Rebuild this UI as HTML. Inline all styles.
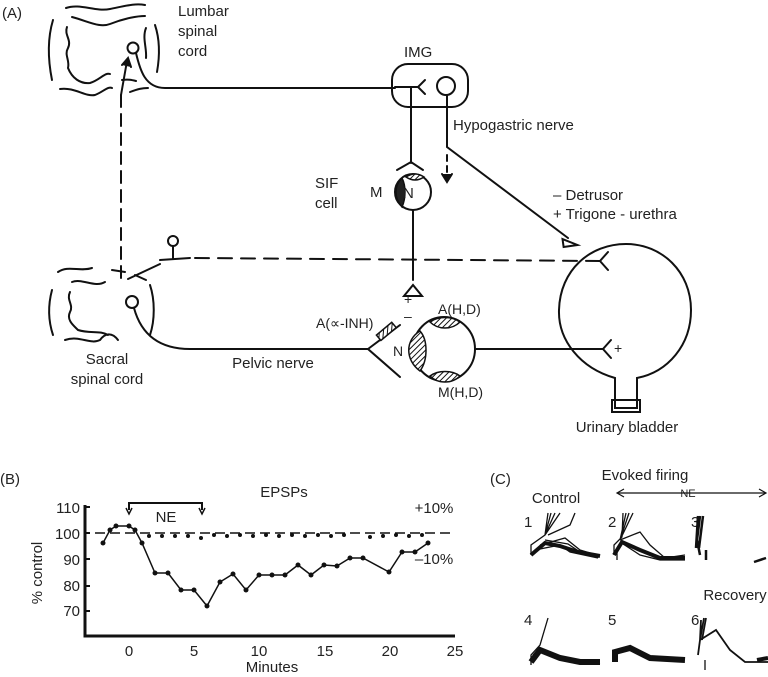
<!DOCTYPE html>
<html><head><meta charset="utf-8"><style>
html,body{margin:0;padding:0;background:#fff;}
svg{display:block;font-family:"Liberation Sans",Arial,sans-serif;}
</style></head><body>
<svg width="768" height="677" viewBox="0 0 768 677" xmlns="http://www.w3.org/2000/svg">
<defs>
<pattern id="h" width="4" height="4" patternUnits="userSpaceOnUse" patternTransform="rotate(45)">
<rect width="4" height="4" fill="#fff"/><line x1="0" y1="0" x2="0" y2="4" stroke="#111" stroke-width="2"/></pattern>
</defs>
<g fill="none" stroke="#111" stroke-width="2" stroke-linecap="round">
<!-- Lumbar cord -->
<path d="M66 8 C80 3 95 12 110 9 C125 6 135 3 145 5"/>
<path d="M72 17 C90 22 100 28 110 24 C125 18 138 16 145 16"/>
<path d="M53 20 C47 40 48 60 52 80"/>
<path d="M67 27 C64 35 72 40 68 48 C64 55 70 60 68 68 C72 78 80 84 90 83 C100 80 105 72 110 74"/>
<path d="M155 25 C160 40 160 55 157 72"/>
<path d="M146 28 C142 38 147 48 146 58"/>
<path d="M60 89 C75 87 85 97 95 95 C103 92 108 86 112 88"/>
<path d="M122 80 C128 79 132 80 136 81"/>
<path d="M130 92 C138 89 142 88 148 88"/>
<circle cx="133" cy="48" r="5.5"/>
<path d="M136 53 C140 70 145 88 165 88 L395 88"/>
<!-- IMG -->
<rect x="392" y="64" width="76" height="43" rx="16"/>
<path d="M425 80 L418 87 L425 94"/>
<path d="M395 87 L418 87"/>
<circle cx="446" cy="86" r="9"/>
<path d="M447 95 L447 147 L568 238"/>
<path d="M563 238 L577 246 L563 246 Z" transform="rotate(-8 570 242)"/>
<path d="M447 155 L447 180" stroke-dasharray="6 5"/>
<path d="M442 174 L447 182 L452 174" fill="#111"/>
<!-- SIF -->
<path d="M411 87 L411 163"/>
<path d="M397 170 L411 162 L423 170"/>
<circle cx="413" cy="192" r="18"/>
<path d="M413 210 L413 280"/>
<path d="M404 296 L413 285 L422 296 Z"/>
<!-- dashed vertical -->
<path d="M121 95 L121 280" stroke-dasharray="12 7"/>
<path d="M121 95 L127 61"/>
<path d="M122 65 L128 58 L131 67" fill="#111"/>
<!-- lollipop -->
<circle cx="173" cy="241" r="5"/>
<path d="M173 246 L173 258 M160 260 L190 258"/>
<path d="M128 279 L160 264"/>
<path d="M195 258 L600 261" stroke-dasharray="14 9"/>
<path d="M608 252 L600 261 L608 270"/>
<!-- bladder -->
<path d="M615 378 C580 368 558 340 559 310 C560 270 590 244 626 244 C662 244 691 272 691 310 C691 345 668 372 637 378 L637 408 L615 408 Z"/>
<path d="M612 400 L640 400 L640 412 L612 412 Z"/>
<!-- sacral cord -->
<path d="M58 272 C68 265 80 272 92 268"/>
<path d="M72 282 C82 278 95 288 105 282"/>
<path d="M52 290 C48 305 48 320 53 335"/>
<path d="M70 292 C66 300 74 305 70 312 C66 320 74 326 78 330 C90 334 100 330 108 335"/>
<path d="M65 340 C80 335 90 345 100 340 C105 333 112 332 118 340"/>
<path d="M150 285 C155 300 155 320 150 335"/>
<path d="M112 270 L125 272 M135 275 L146 280"/>
<circle cx="132" cy="302" r="6"/>
<path d="M134 308 C140 330 155 349 190 349 L368 349"/>
<path d="M400 325 L368 349 L400 377"/>
<!-- big neuron -->
<ellipse cx="444" cy="349" rx="31" ry="32"/>
<path d="M475 349 L603 349"/>
<path d="M611 340 L603 349 L611 358"/>
</g>
<rect x="376" y="328" width="20" height="7" fill="url(#h)" stroke="#111" stroke-width="1.5" transform="rotate(-40 386 331)"/>
<path d="M420 331 C405 340 405 360 420 371 C428 360 428 340 420 331 Z" fill="url(#h)" stroke="#111" stroke-width="1.5"/>
<path d="M430 322 C438 316 452 316 460 322 C452 330 438 330 430 322 Z" fill="url(#h)" stroke="#111" stroke-width="1.5"/>
<path d="M430 376 C438 370 452 370 460 376 C452 384 438 384 430 376 Z" fill="url(#h)" stroke="#111" stroke-width="1.5"/>
<path d="M402 178 C394 186 394 198 402 207 C406 198 406 186 402 178 Z" fill="#222" stroke="#111" stroke-width="1.5"/>
<path d="M406 177 C412 173 418 173 424 177 C418 181 412 181 406 177 Z" fill="url(#h)" stroke="#111" stroke-width="1.5"/>
<g font-size="15" fill="#222">
<text x="2" y="18">(A)</text>
<text x="178" y="16">Lumbar</text><text x="178" y="36">spinal</text><text x="178" y="56">cord</text>
<text x="404" y="57">IMG</text>
<text x="453" y="130">Hypogastric nerve</text>
<text x="315" y="188">SIF</text><text x="315" y="208">cell</text>
<text x="370" y="197">M</text><text x="403" y="198">N</text>
<text x="553" y="200">– Detrusor</text><text x="553" y="219">+ Trigone - urethra</text>
<text x="404" y="304" font-size="14">+</text><text x="404" y="321" font-size="14">–</text>
<text x="316" y="328" font-size="14">A(∝-INH)</text>
<text x="438" y="314" font-size="14">A(H,D)</text>
<text x="393" y="356" font-size="14">N</text>
<text x="438" y="397" font-size="14">M(H,D)</text>
<text x="614" y="353" font-size="14">+</text>
<text x="107" y="364" text-anchor="middle">Sacral</text>
<text x="107" y="384" text-anchor="middle">spinal cord</text>
<text x="273" y="368" text-anchor="middle">Pelvic nerve</text>
<text x="627" y="432" text-anchor="middle">Urinary bladder</text>
<!-- B -->
<text x="0" y="484">(B)</text>
<text x="284" y="497" text-anchor="middle">EPSPs</text>
<text x="434" y="513" text-anchor="middle">+10%</text>
<text x="434" y="564" text-anchor="middle">–10%</text>
<text x="166" y="522" text-anchor="middle">NE</text>
<g text-anchor="end"><text x="80" y="513">110</text><text x="80" y="539">100</text><text x="80" y="565">90</text><text x="80" y="591">80</text><text x="80" y="616">70</text></g>
<g text-anchor="middle"><text x="129" y="656">0</text><text x="194" y="656">5</text><text x="259" y="656">10</text><text x="325" y="656">15</text><text x="390" y="656">20</text><text x="455" y="656">25</text></g>
<text x="272" y="672" text-anchor="middle">Minutes</text>
<text transform="translate(42 573) rotate(-90)" text-anchor="middle">% control</text>
<!-- C -->
<text x="490" y="484">(C)</text>
<text x="645" y="480" text-anchor="middle">Evoked firing</text>
<text x="556" y="503" text-anchor="middle">Control</text>
<text x="688" y="497" text-anchor="middle" font-size="11">NE</text>
<text x="524" y="527">1</text><text x="608" y="527">2</text><text x="691" y="527">3</text>
<text x="735" y="600" text-anchor="middle">Recovery</text>
<text x="524" y="625">4</text><text x="608" y="625">5</text><text x="691" y="625">6</text>
</g>
<g fill="none" stroke="#111" stroke-width="2">
<path d="M85 505 L85 636 L455 636" stroke-width="3"/>
<path d="M85 507 L90 507 M85 533 L90 533 M85 559 L90 559 M85 586 L90 586 M85 611 L90 611"/>
<path d="M129 510 L129 503 L202 503 L202 510"/>
<path d="M126 508 L129 514 L132 508 M199 508 L202 514 L205 508" stroke-width="1.5"/>
<path d="M95 533 L455 533" stroke-dasharray="10 5" stroke-width="1.5"/>
<polyline stroke-width="1.5" points="103,543 110,530 116,526 123,526 129,526 135,530 142,543 155,573 168,573 181,590 194,590 207,606 220,582 233,574 246,590 259,575 272,575 285,575 298,565 311,575 324,565 337,566 350,558 363,558 389,572 402,552 415,552 428,543"/>
<g fill="#111" stroke="none">
<circle cx="103" cy="543" r="2.5"/><circle cx="110" cy="530" r="2.5"/><circle cx="116" cy="526" r="2.5"/><circle cx="129" cy="526" r="2.5"/><circle cx="135" cy="530" r="2.5"/><circle cx="142" cy="543" r="2.5"/><circle cx="155" cy="573" r="2.5"/><circle cx="168" cy="573" r="2.5"/><circle cx="181" cy="590" r="2.5"/><circle cx="194" cy="590" r="2.5"/><circle cx="207" cy="606" r="2.5"/><circle cx="220" cy="582" r="2.5"/><circle cx="233" cy="574" r="2.5"/><circle cx="246" cy="590" r="2.5"/><circle cx="259" cy="575" r="2.5"/><circle cx="272" cy="575" r="2.5"/><circle cx="285" cy="575" r="2.5"/><circle cx="298" cy="565" r="2.5"/><circle cx="311" cy="575" r="2.5"/><circle cx="324" cy="565" r="2.5"/><circle cx="337" cy="566" r="2.5"/><circle cx="350" cy="558" r="2.5"/><circle cx="363" cy="558" r="2.5"/><circle cx="389" cy="572" r="2.5"/><circle cx="402" cy="552" r="2.5"/><circle cx="415" cy="552" r="2.5"/><circle cx="428" cy="543" r="2.5"/>
<circle cx="149" cy="536" r="2"/><circle cx="162" cy="536" r="2"/><circle cx="175" cy="536" r="2"/><circle cx="188" cy="536" r="2"/><circle cx="201" cy="538" r="2"/><circle cx="214" cy="535" r="2"/><circle cx="227" cy="536" r="2"/><circle cx="240" cy="535" r="2"/><circle cx="253" cy="536" r="2"/><circle cx="266" cy="535" r="2"/><circle cx="279" cy="536" r="2"/><circle cx="292" cy="535" r="2"/><circle cx="305" cy="536" r="2"/><circle cx="318" cy="535" r="2"/><circle cx="331" cy="536" r="2"/><circle cx="344" cy="535" r="2"/><circle cx="370" cy="537" r="2"/><circle cx="383" cy="536" r="2"/><circle cx="396" cy="535" r="2"/><circle cx="409" cy="536" r="2"/><circle cx="422" cy="535" r="2"/>
</g>
<!-- C traces -->
<path d="M618 493 L765 493" stroke-width="1.2"/>
<path d="M624 489 L617 493 L624 497 M759 489 L766 493 L759 497" stroke-width="1.2"/>
<g stroke-width="1.3">
<path d="M531 555 L531 545 L545 535 L548 513 M545 535 L551 513 M545 535 L555 513 M545 535 L560 513 M548 535 L570 525 L575 513 M545 540 L568 544 L580 552 L600 556 M535 550 L560 545 L570 552 L598 558 M540 545 L565 538 L580 550 L600 556"/>
<path d="M531 555 L545 543 L560 546 L578 552 L600 556" stroke-width="4"/>
<path d="M614 555 L614 545 L622 537 L623 513 M620 540 L626 513 M620 540 L629 513 M620 540 L633 513 M620 540 L640 532 L650 545 L665 558 L685 555 M620 542 L640 555 L660 560 L685 560"/>
<path d="M614 555 L622 542 L640 550 L660 558 L685 558" stroke-width="4"/>
<path d="M617 550 L617 560"/>
<path d="M700 516 L697 540 L700 555 M703 516 L699 548 M698 516 L696 548" stroke-width="2.5"/>
<path d="M706 550 L706 560 M754 562 L766 558" stroke-width="2.5"/>
<path d="M531 665 L531 655 L540 645 L548 618 M533 655 L540 648 L560 658 L600 664" />
<path d="M531 662 L540 650 L560 658 L580 662 L600 662" stroke-width="6"/>
<path d="M615 662 L615 652 L630 648 L650 658 L685 660" stroke-width="6"/>
<path d="M700 640 L701 620 M698 655 L700 640 L704 618 M702 640 L706 618 M700 640 L716 630 L730 650 L745 662 L768 662" stroke-width="1.8"/>
<path d="M757 660 L768 658" stroke-width="4"/>
<path d="M705 660 L705 670"/>
</g>
</g>
</svg>
</body></html>
